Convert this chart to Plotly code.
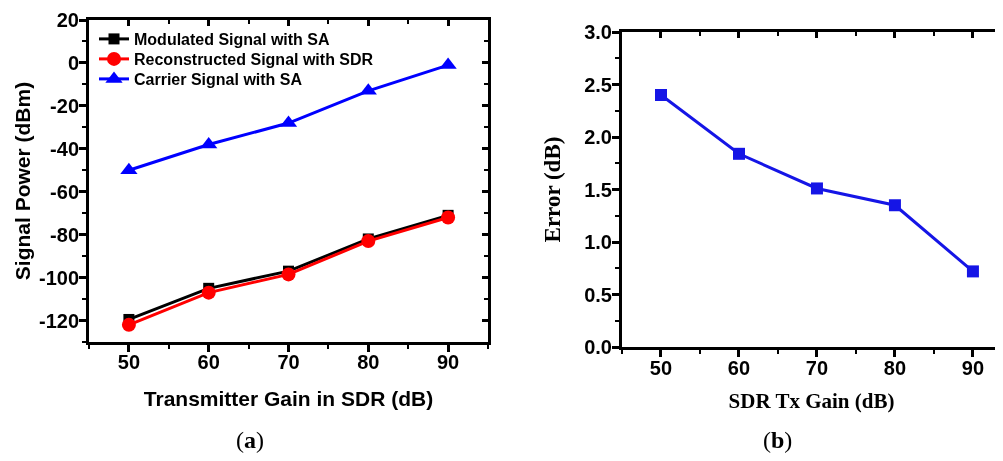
import plotly.graph_objects as go

# ---- data ----
gain = [50, 60, 70, 80, 90]
modulated_sa = [-119.5, -105, -97, -82, -71]
reconstructed_sdr = [-122, -107, -98.5, -83, -72]
carrier_sa = [-50, -38, -28, -13, -1]
power_ticks = [20, 0, -20, -40, -60, -80, -100, -120]

tx_gain = [50, 60, 70, 80, 90]
error_db = [2.40, 1.84, 1.51, 1.35, 0.72]
error_ticks = [0.0, 0.5, 1.0, 1.5, 2.0, 2.5, 3.0]

W, H = 1003, 461
OFF = 8  # page body margin offset
SANS = "Liberation Sans"
SERIF = "Liberation Serif"


def xp(px):
    return (px - OFF) / W


def yp(py):
    return 1 - (py - OFF) / H


fig = go.Figure()

# panel (a)
fig.add_trace(go.Scatter(x=gain, y=modulated_sa, mode="lines+markers",
                         name="Modulated Signal with SA", legend="legend",
                         line=dict(color="black", width=3),
                         marker=dict(symbol="square", size=11, color="black"),
                         xaxis="x", yaxis="y"))
fig.add_trace(go.Scatter(x=gain, y=reconstructed_sdr, mode="lines+markers",
                         name="Reconstructed Signal with SDR", legend="legend2",
                         line=dict(color="#ff0000", width=3),
                         marker=dict(symbol="circle", size=14, color="#ff0000"),
                         xaxis="x", yaxis="y"))
fig.add_trace(go.Scatter(x=gain, y=carrier_sa, mode="lines+markers",
                         name="Carrier Signal with SA", legend="legend3",
                         line=dict(color="#0000ff", width=3),
                         marker=dict(symbol="triangle-up", size=15, color="#0000ff"),
                         xaxis="x", yaxis="y"))
# invisible trace to host top/right tick axes of panel (a)
fig.add_trace(go.Scatter(x=gain, y=carrier_sa, mode="markers", opacity=0,
                         showlegend=False, hoverinfo="skip",
                         xaxis="x3", yaxis="y3"))

# panel (b)
fig.add_trace(go.Scatter(x=tx_gain, y=error_db, mode="lines+markers",
                         showlegend=False,
                         line=dict(color="#1515e6", width=3),
                         marker=dict(symbol="square", size=12, color="#1515e6"),
                         xaxis="x2", yaxis="y2"))
fig.add_trace(go.Scatter(x=tx_gain, y=error_db, mode="markers", opacity=0,
                         showlegend=False, hoverinfo="skip",
                         xaxis="x4", yaxis="y4"))

xa_dom = [xp(89), xp(488)]
ya_dom = [yp(342), yp(20)]
xb_dom = [xp(622), xp(1001)]
yb_dom = [yp(347), yp(32)]

tickfont = dict(family=SANS, size=20, color="black", weight="bold")

common = dict(showgrid=False, zeroline=False, showline=True, linecolor="black",
              linewidth=3, ticks="outside", ticklen=7, tickwidth=3,
              tickcolor="black", tickfont=tickfont, automargin=False)

over = dict(showgrid=False, zeroline=False, showline=False, showticklabels=False,
            tickwidth=3, tickcolor="black", automargin=False)

legfont = dict(family=SANS, size=16, color="black", weight="bold")


def leg(row_y):
    return dict(x=xp(94), y=yp(row_y), xanchor="left", yanchor="middle",
                bgcolor="rgba(0,0,0,0)", font=legfont)


fig.update_layout(
    width=W, height=H,
    margin=dict(l=0, r=0, t=0, b=0, autoexpand=False),
    paper_bgcolor="white", plot_bgcolor="white",
    showlegend=True,
    legend=leg(39), legend2=leg(59), legend3=leg(79),
    xaxis=dict(domain=xa_dom, anchor="y", range=[45, 95], tickvals=gain,
               mirror=True, ticklabelstandoff=-7,
               minor=dict(ticks="outside", dtick=5, tick0=0, ticklen=4, tickwidth=2, tickcolor="black"),
               title=dict(text="Transmitter Gain in SDR (dB)", standoff=20,
                          font=dict(family=SANS, size=21, color="black", weight="bold")),
               **common),
    yaxis=dict(domain=ya_dom, anchor="x", range=[-130, 20],
               tickvals=power_ticks, ticktext=[str(v) for v in power_ticks],
               mirror=True, ticklabelstandoff=-4,
               minor=dict(ticks="outside", dtick=10, tick0=0, ticklen=4, tickwidth=2, tickcolor="black"),
               title=dict(text="Signal Power (dBm)", standoff=3,
                          font=dict(family=SANS, size=21, color="black", weight="bold")),
               **common),
    xaxis3=dict(overlaying="x", anchor="y", side="top", range=[45, 95], tickvals=gain,
                ticks="inside", ticklen=6,
                minor=dict(ticks="inside", dtick=5, tick0=0, ticklen=4, tickwidth=2, tickcolor="black"),
                **over),
    yaxis3=dict(overlaying="y", anchor="x", side="right", range=[-130, 20],
                tickvals=power_ticks, ticks="inside", ticklen=6,
                minor=dict(ticks="inside", dtick=10, tick0=0, ticklen=4, tickwidth=2, tickcolor="black"),
                **over),
    xaxis2=dict(domain=xb_dom, anchor="y2", range=[45, 93.6], tickvals=tx_gain,
                mirror=True, ticklabelstandoff=-6,
                minor=dict(ticks="outside", dtick=5, tick0=0, ticklen=4, tickwidth=2, tickcolor="black"),
                title=dict(text="SDR Tx Gain (dB)", standoff=16,
                           font=dict(family=SERIF, size=21, color="black", weight="bold")),
                **common),
    yaxis2=dict(domain=yb_dom, anchor="x2", range=[0, 3.0],
                tickvals=error_ticks, ticktext=[f"{v:.1f}" for v in error_ticks],
                mirror=True, ticklabelstandoff=-4,
                minor=dict(ticks="outside", dtick=0.25, tick0=0, ticklen=4, tickwidth=2, tickcolor="black"),
                title=dict(text="Error (dB)", standoff=18,
                           font=dict(family=SERIF, size=23, color="black", weight="bold")),
                **common),
    xaxis4=dict(overlaying="x2", anchor="y2", side="top", range=[45, 93.6], tickvals=tx_gain,
                ticks="inside", ticklen=6,
                minor=dict(ticks="inside", dtick=5, tick0=0, ticklen=4, tickwidth=2, tickcolor="black"),
                **over),
    yaxis4=dict(overlaying="y2", anchor="x2", side="right", range=[0, 3.0], ticks="",
                **over),
    annotations=[
        dict(text="(<b>a</b>)", x=xp(250), y=yp(440), xref="paper", yref="paper",
             showarrow=False, xanchor="center", yanchor="middle",
             font=dict(family=SERIF, size=24, color="black")),
        dict(text="(<b>b</b>)", x=xp(777), y=yp(440), xref="paper", yref="paper",
             showarrow=False, xanchor="center", yanchor="middle",
             font=dict(family=SERIF, size=24, color="black")),
    ],
)

fig.write_html("out.html")
